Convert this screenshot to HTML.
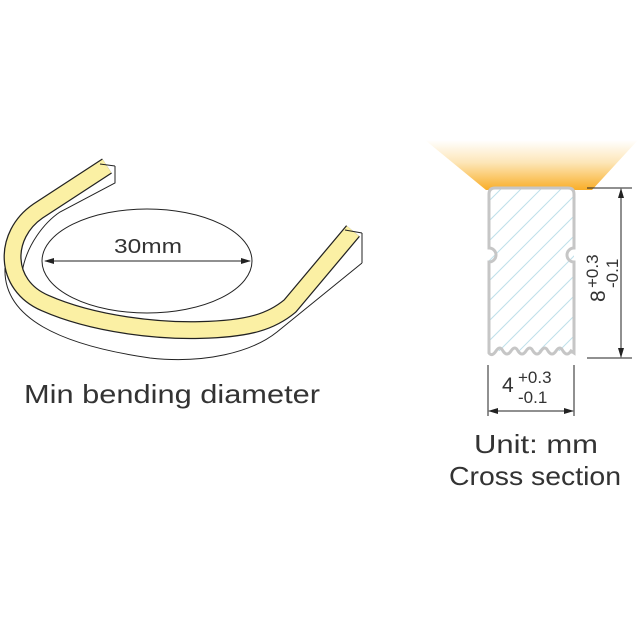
<!DOCTYPE html>
<html><head><meta charset="utf-8"><style>html,body{margin:0;padding:0;background:#fff}svg{display:block}</style></head>
<body>
<svg width="639" height="640" viewBox="0 0 639 640" xmlns="http://www.w3.org/2000/svg" font-family="Liberation Sans, sans-serif">
<defs>
<linearGradient id="g" x1="0" y1="0" x2="0" y2="1">
<stop offset="0" stop-color="#fff"/>
<stop offset="0.45" stop-color="#fde6b8"/>
<stop offset="1" stop-color="#f9ae28"/>
</linearGradient>
<clipPath id="rc"><rect x="489" y="188" width="85" height="168" rx="6"/></clipPath>
<marker id="a" markerWidth="10" markerHeight="8" refX="9" refY="4" orient="auto-start-reverse" markerUnits="userSpaceOnUse"><path d="M0,1 L10,4 L0,7 Z" fill="#222"/></marker>
</defs>
<!-- left strip -->
<g fill="none" stroke="#222" stroke-width="1">
<path d="M5,268 C3,318 60,345 150,358 C205,364 252,352 277,332 L362,263" fill="#fff"/>
<path d="M362,233 L362,263"/>
<path d="M115,166 L115,183 L60,212 C45,222 26,245 22,273"/>
</g>
<path d="M107,166 L38,211 C3,235 3,285 45,303 C95,325 160,331 200,330 C250,329 272,321 290,306 L353,231" fill="none" stroke="#222" stroke-width="18" stroke-linejoin="round"/>
<path d="M107,166 L38,211 C3,235 3,285 45,303 C95,325 160,331 200,330 C250,329 272,321 290,306 L353,231" fill="none" stroke="#fbf0a4" stroke-width="15.5" stroke-linejoin="round"/>
<line x1="100" y1="164" x2="115" y2="166" stroke="#222"/>
<line x1="345" y1="230" x2="362" y2="233" stroke="#222"/>
<ellipse cx="147" cy="261" rx="105" ry="52" fill="none" stroke="#222" stroke-width="1"/>
<line x1="45" y1="261" x2="250" y2="261" stroke="#222" marker-start="url(#a)" marker-end="url(#a)"/>
<text x="148" y="253" font-size="20" fill="#333" text-anchor="middle" textLength="68" lengthAdjust="spacingAndGlyphs">30mm</text>
<text x="24" y="403" font-size="26" fill="#333" textLength="296" lengthAdjust="spacingAndGlyphs">Min bending diameter</text>
<!-- cross section -->
<polygon points="425,140 638,140 592,190 486,190" fill="url(#g)"/>
<rect x="489" y="188" width="85" height="168" rx="6" fill="#fff"/>
<g clip-path="url(#rc)" stroke="#bfe0ea" stroke-width="1">
<path d="M470,380 L650,200 M470,360 L650,180 M470,340 L650,160 M470,320 L650,140 M470,300 L650,120 M470,280 L650,100 M470,260 L650,80 M470,240 L650,60 M470,220 L650,40 M470,400 L650,220 M470,420 L650,240 M470,440 L650,260 M470,460 L650,280 M470,480 L650,300"/>
</g>
<path d="M489,350 L489,262 A6,6 0 0 0 489,248 L489,194 Q489,188 495,188 L568,188 Q574,188 574,194 L574,248 A6,6 0 0 0 574,262 L574,350" fill="none" stroke="#c6c6c6" stroke-width="3"/>
<rect x="486" y="351" width="92" height="10" fill="#fff"/>
<path d="M489,348 L489,353 Q492,357 496,351 Q500,345 503,351 Q507,357 511,351 Q515,345 518,351 Q522,357 526,351 Q530,345 533,351 Q537,357 541,351 Q545,345 548,351 Q552,357 556,351 Q560,345 563,351 Q567,357 571,351 L574,353 L574,348" fill="none" stroke="#c6c6c6" stroke-width="3"/>
<g stroke="#222" stroke-width="1">
<line x1="587" y1="188" x2="632" y2="188"/>
<line x1="587" y1="358" x2="632" y2="358"/>
<line x1="621" y1="189" x2="621" y2="357" marker-start="url(#a)" marker-end="url(#a)"/>
<line x1="488" y1="365" x2="488" y2="416"/>
<line x1="574" y1="365" x2="574" y2="416"/>
<line x1="489" y1="411" x2="573" y2="411" marker-start="url(#a)" marker-end="url(#a)"/>
</g>
<g fill="#333">
<text x="502" y="392" font-size="21">4</text>
<text x="518" y="383" font-size="17">+0.3</text>
<text x="518" y="403" font-size="17">-0.1</text>
<g transform="translate(605,302) rotate(-90)">
<text x="0" y="0" font-size="21">8</text>
<text x="14" y="-7" font-size="17">+0.3</text>
<text x="14" y="13" font-size="17">-0.1</text>
</g>
<text x="536" y="453" font-size="26" text-anchor="middle" textLength="124" lengthAdjust="spacingAndGlyphs">Unit: mm</text>
<text x="535" y="485" font-size="26" text-anchor="middle" textLength="172" lengthAdjust="spacingAndGlyphs">Cross section</text>
</g>
</svg>
</body></html>
